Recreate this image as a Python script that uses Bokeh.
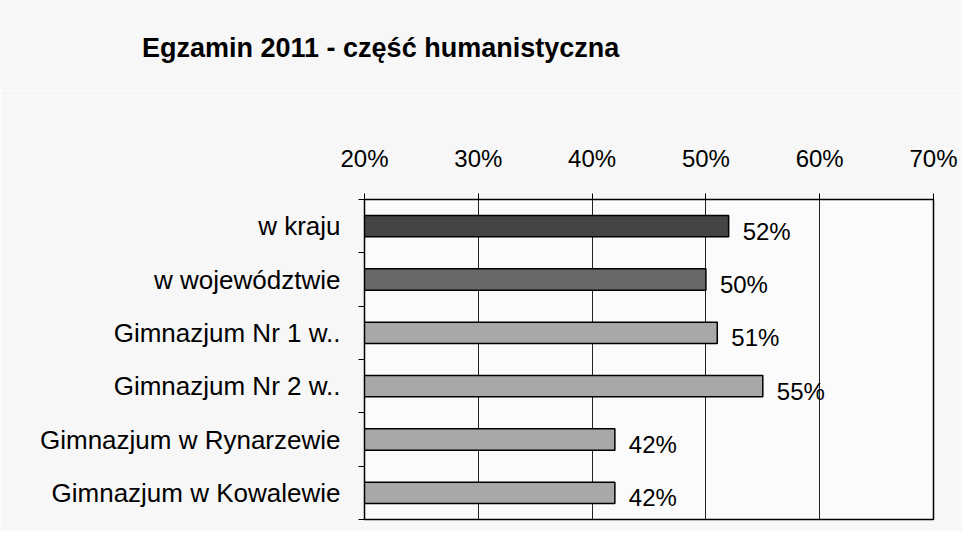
from bokeh.plotting import figure
from bokeh.models import FixedTicker, ColumnDataSource, Range1d, Div
from bokeh.layouts import column
from bokeh.embed import file_html
from bokeh.resources import INLINE
from bokeh.core.properties import value

title_text = "Egzamin 2011 - część humanistyczna"
categories = ["w kraju", "w województwie", "Gimnazjum Nr 1 w..", "Gimnazjum Nr 2 w..",
              "Gimnazjum w Rynarzewie", "Gimnazjum w Kowalewie"]
values = [52, 50, 51, 55, 42, 42]
bar_colors = ["#444444", "#686868", "#a8a8a8", "#a8a8a8", "#a8a8a8", "#a8a8a8"]
x_ticks = [20, 30, 40, 50, 60, 70]
x_tick_labels = ["20%", "30%", "40%", "50%", "60%", "70%"]

n = len(categories)
ypos = [n - i - 0.5 for i in range(n)]
src = ColumnDataSource(dict(
    y=ypos, v=values, color=bar_colors,
    label=[f"{v}%" for v in values],
))

FONT = "Liberation Sans"
PAPER = "#f7f7f7"
TITLE_H = 90

title = Div(text=title_text, width=962, height=TITLE_H, margin=(0, 0, 0, 0),
            styles={"font-family": FONT, "font-size": "27px", "font-weight": "bold",
                    "color": "black", "background-color": PAPER,
                    "padding-left": "142px", "padding-top": "35px",
                    "line-height": "27px", "box-sizing": "border-box",
                    "white-space": "nowrap"})

p = figure(width=962, height=531 - TITLE_H, output_backend="svg", toolbar_location=None,
           x_range=Range1d(20, 70), y_range=Range1d(0, n),
           x_axis_location="above", margin=(0, 0, 0, 0),
           min_border_left=364, min_border_right=29, min_border_top=199 - TITLE_H,
           min_border_bottom=12)

p.border_fill_color = PAPER
p.background_fill_color = "#fbfbfb"
p.outline_line_color = "black"
p.outline_line_width = 1.5

p.hbar(y="y", right="v", left=20, height=0.4, fill_color="color", line_color="black",
       line_width=1.5, source=src)
p.text(x="v", y="y", text="label", x_offset=14, y_offset=5, text_align="left",
       text_baseline="middle", text_font=value(FONT), text_font_size="24px",
       text_color="black", source=src)

xa = p.xaxis[0]
xa.ticker = FixedTicker(ticks=x_ticks)
xa.major_label_overrides = {t: l for t, l in zip(x_ticks, x_tick_labels)}
xa.major_tick_out = 6
xa.major_tick_in = 0
xa.minor_tick_out = 0
xa.major_label_standoff = 22
xa.major_label_text_font = FONT
xa.major_label_text_font_size = "24px"
xa.major_label_text_color = "black"
xa.axis_line_color = "black"
xa.major_tick_line_color = "black"

ya = p.yaxis[0]
ya.ticker = FixedTicker(ticks=ypos, minor_ticks=list(range(n + 1)))
ya.major_label_overrides = {y: c for y, c in zip(ypos, categories)}
ya.major_tick_out = 0
ya.major_tick_in = 0
ya.minor_tick_out = 6
ya.minor_tick_in = 0
ya.minor_tick_line_color = "black"
ya.major_label_standoff = 18
ya.major_label_text_font = FONT
ya.major_label_text_font_size = "26px"
ya.major_label_text_color = "black"
ya.axis_line_color = "black"

p.xgrid.ticker = FixedTicker(ticks=x_ticks)
p.xgrid.grid_line_color = "#222222"
p.xgrid.grid_line_width = 1
p.ygrid.grid_line_color = None

layout = column(title, p, spacing=0, margin=(0, 0, 0, 0))
open("out.html", "w").write(file_html(layout, INLINE))
